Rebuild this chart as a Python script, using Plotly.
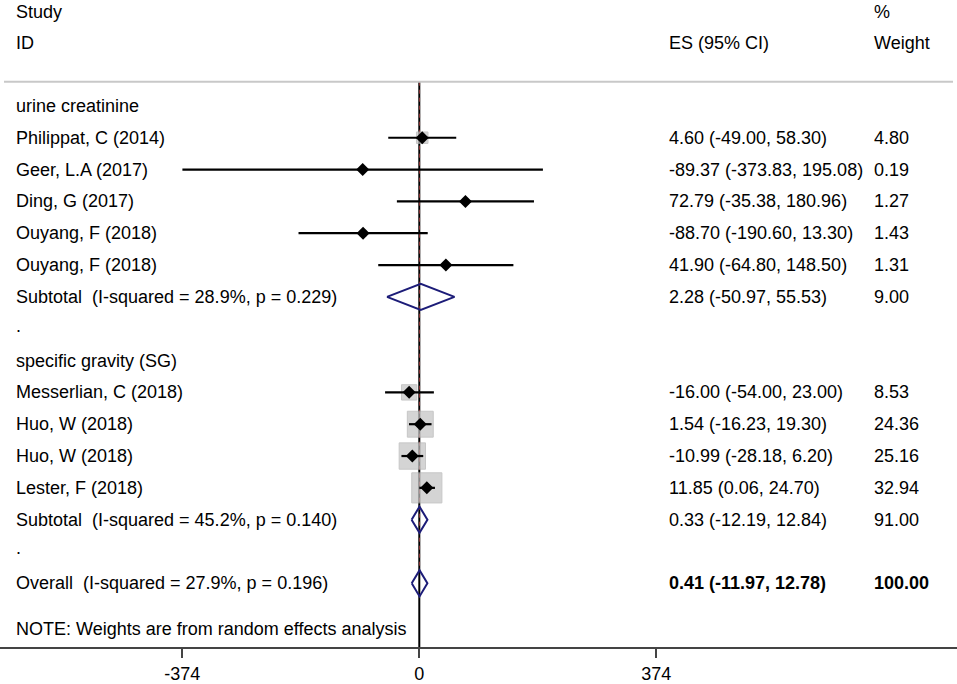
import math
import plotly.graph_objects as go

# ---------------- data ----------------
group_names = ["urine creatinine", "specific gravity (SG)"]

study_names = ["Philippat, C (2014)", "Geer, L.A (2017)", "Ding, G (2017)",
               "Ouyang, F (2018)", "Ouyang, F (2018)",
               "Messerlian, C (2018)", "Huo, W (2018)", "Huo, W (2018)", "Lester, F (2018)"]
study_group = [0, 0, 0, 0, 0, 1, 1, 1, 1]
study_es = [4.60, -89.37, 72.79, -88.70, 41.90, -16.00, 1.54, -10.99, 11.85]
study_lo = [-49.00, -373.83, -35.38, -190.60, -64.80, -54.00, -16.23, -28.18, 0.06]
study_hi = [58.30, 195.08, 180.96, 13.30, 148.50, 23.00, 19.30, 6.20, 24.70]
study_wt = [4.80, 0.19, 1.27, 1.43, 1.31, 8.53, 24.36, 25.16, 32.94]

sub_labels = ["Subtotal\u00a0 (I-squared = 28.9%, p = 0.229)",
              "Subtotal\u00a0 (I-squared = 45.2%, p = 0.140)"]
sub_es = [2.28, 0.33]
sub_lo = [-50.97, -12.19]
sub_hi = [55.53, 12.84]
sub_wt = [9.00, 91.00]

overall_label = "Overall\u00a0 (I-squared = 27.9%, p = 0.196)"
overall_es = 0.41
overall_lo = -11.97
overall_hi = 12.78
overall_wt = 100.00

tick_vals = [-374, 0, 374]
tick_text = ["-374", "0", "374"]
note_text = "NOTE: Weights are from random effects analysis"

# ---------------- layout geometry ----------------
FONT = "Liberation Sans, Arial, sans-serif"
FS = 18
W, H = 957, 684
X0_PX, PX_PER_UNIT = 419.3, 0.6337
x_range = [-X0_PX / PX_PER_UNIT, (W - X0_PX) / PX_PER_UNIT]

ROW1_PX, ROW_PX, AXIS_PX = 105.9, 31.83, 647.0
y_top = 1 - ROW1_PX / ROW_PX
y_bot = 1 + (AXIS_PX - ROW1_PX) / ROW_PX

def prow(px):
    return 1 + (px - ROW1_PX) / ROW_PX

label_x = 14 / W
es_x = 667 / W
wt_x = 872 / W

rows = []  # (kind, index, row)
r = 1
for g in range(len(group_names)):
    rows.append(("group", g, r)); r += 1
    for i, sg in enumerate(study_group):
        if sg == g:
            rows.append(("study", i, r)); r += 1
    rows.append(("sub", g, r)); r += 1
    rows.append(("dot", g, r)); r += 1
overall_row = r

fig = go.Figure()
ann = []

def txt(x, y, s, bold=False, size=FS):
    ann.append(dict(x=x, y=y, xref="paper", yref="y", text=("<b>%s</b>" % s) if bold else s,
                    showarrow=False, xanchor="left", yanchor="middle",
                    font=dict(family=FONT, size=size, color="black")))

def fmt(es, lo, hi):
    return "%.2f (%.2f, %.2f)" % (es, lo, hi)

# headers
txt(label_x, prow(12), "Study")
txt(label_x, prow(43), "ID")
txt(wt_x, prow(12), "%")
txt(es_x, prow(43), "ES (95% CI)")
txt(wt_x, prow(43), "Weight")

rule_row = prow(81.7)

# null line and overall line
fig.add_trace(go.Scatter(x=[0, 0], y=[rule_row, y_bot + 0.3], mode="lines",
                         line=dict(color="black", width=2), hoverinfo="skip", showlegend=False))
fig.add_trace(go.Scatter(x=[overall_es, overall_es], y=[rule_row, overall_row - 0.4], mode="lines",
                         line=dict(color="#8a3030", width=1, dash="4px,4px"),
                         hoverinfo="skip", showlegend=False))

box_x, box_y, box_s = [], [], []
ci_x, ci_y = [], []
pt_x, pt_y = [], []
dia_x, dia_y = [], []
HD = 0.41

def add_diamond(es, lo, hi, row):
    dia_x.extend([lo, es, hi, es, lo, None])
    dia_y.extend([row, row - HD, row, row + HD, row, None])

for kind, i, row in rows:
    if kind == "group":
        txt(label_x, row, group_names[i])
    elif kind == "study":
        txt(label_x, row, study_names[i])
        txt(es_x, row, fmt(study_es[i], study_lo[i], study_hi[i]))
        txt(wt_x, row, "%.2f" % study_wt[i])
        box_x.append(study_es[i]); box_y.append(row); box_s.append(5.25 * math.sqrt(study_wt[i]))
        ci_x.extend([study_lo[i], study_hi[i], None]); ci_y.extend([row, row, None])
        pt_x.append(study_es[i]); pt_y.append(row)
    elif kind == "sub":
        txt(label_x, row, sub_labels[i])
        txt(es_x, row, fmt(sub_es[i], sub_lo[i], sub_hi[i]))
        txt(wt_x, row, "%.2f" % sub_wt[i])
        add_diamond(sub_es[i], sub_lo[i], sub_hi[i], row)
    elif kind == "dot":
        txt(label_x, row - 0.1, ".")

txt(label_x, overall_row, overall_label)
txt(es_x, overall_row, fmt(overall_es, overall_lo, overall_hi), bold=True)
txt(wt_x, overall_row, "%.2f" % overall_wt, bold=True)
add_diamond(overall_es, overall_lo, overall_hi, overall_row)
txt(label_x, prow(629), note_text)

fig.add_trace(go.Scatter(x=box_x, y=box_y, mode="markers",
                         marker=dict(symbol="square", size=box_s, color="#c2c2c2",
                                     line=dict(color="#b0b0b0", width=1)),
                         hoverinfo="skip", showlegend=False))
fig.add_trace(go.Scatter(x=ci_x, y=ci_y, mode="lines", line=dict(color="black", width=2.2),
                         hoverinfo="skip", showlegend=False))
fig.add_trace(go.Scatter(x=pt_x, y=pt_y, mode="markers",
                         marker=dict(symbol="diamond", size=10, color="black"),
                         hoverinfo="skip", showlegend=False))
fig.add_trace(go.Scatter(x=dia_x, y=dia_y, mode="lines", line=dict(color="#1c1c78", width=2),
                         hoverinfo="skip", showlegend=False))

# top rule
shapes = [dict(type="line", xref="paper", yref="y", x0=4 / W, x1=953 / W, y0=rule_row, y1=rule_row,
               line=dict(color="#c8c8c8", width=2))]

fig.update_layout(
    width=W, height=H, margin=dict(l=0, r=0, t=0, b=0),
    paper_bgcolor="white", plot_bgcolor="white",
    annotations=ann, shapes=shapes,
    xaxis=dict(range=x_range, showgrid=False, zeroline=False, showline=True,
               linecolor="#444444", linewidth=2, ticks="outside", ticklen=9, tickwidth=2,
               tickcolor="#444444", tickvals=tick_vals, ticktext=tick_text,
               tickfont=dict(family=FONT, size=FS, color="black"), fixedrange=True),
    yaxis=dict(range=[y_bot, y_top], domain=[(H - AXIS_PX) / H, 1], showgrid=False,
               zeroline=False, showticklabels=False, showline=False, fixedrange=True),
)

fig.write_html("out.html", config={"displayModeBar": False},
               post_script="document.body.style.margin='0px';document.body.style.overflow='hidden';")
